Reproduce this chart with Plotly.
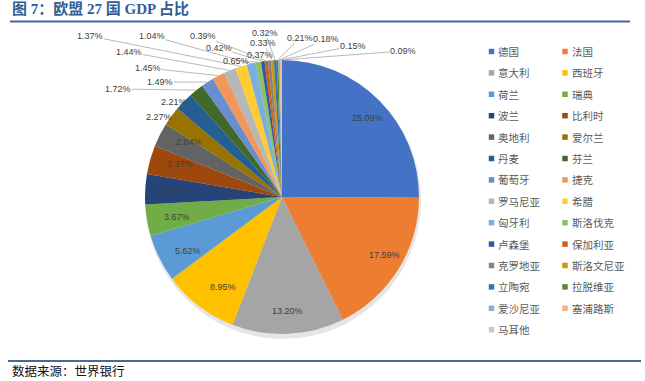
import math
import plotly.graph_objects as go

# ---------------- data ----------------
countries = ["德国", "法国", "意大利", "西班牙", "荷兰", "瑞典", "波兰", "比利时", "奥地利",
             "爱尔兰", "丹麦", "芬兰", "葡萄牙", "捷克", "罗马尼亚", "希腊", "匈牙利", "斯洛伐克",
             "卢森堡", "保加利亚", "克罗地亚", "斯洛文尼亚", "立陶宛", "拉脱维亚", "爱沙尼亚",
             "塞浦路斯", "马耳他"]
shares = [25.09, 17.59, 13.20, 8.95, 5.62, 3.67, 3.57, 3.37, 2.84,
          2.27, 2.21, 1.72, 1.49, 1.45, 1.44, 1.37, 1.04, 0.65,
          0.42, 0.39, 0.37, 0.33, 0.32, 0.21, 0.18, 0.15, 0.09]
colors = ["#4472C4", "#ED7D31", "#A5A5A5", "#FFC000", "#5B9BD5", "#70AD47", "#264478",
          "#9E480E", "#636363", "#997300", "#255E91", "#43682B", "#698ED0", "#F1975A",
          "#B7B7B7", "#FFCD33", "#7CAFDD", "#8CC168", "#335AA1", "#D26012", "#848484",
          "#CC9A00", "#3275B2", "#5A8A39", "#8FAADC", "#F4B183", "#C9C9C9"]
title_text = "图 7：欧盟 27 国 GDP 占比"
source_text = "数据来源：世界银行"

# ---------------- layout constants (pixels) ----------------
W, H = 645, 381
CX, CY, R = 282, 197, 137
INSIDE_MIN = 2.5      # labels drawn inside the slice
OUTSIDE_MIN = 2.0     # labels just outside, no leader line
INSIDE_R = 0.88
OUTSIDE_GAP = 2       # px between slice edge and right end of an outside label
# label centres (px) for the small slices with leader lines, in slice order
LEADER_POS = [(118, 89), (160, 82), (148, 68), (129, 52), (90, 36), (152, 36),
              (236, 61), (219, 48), (203, 36), (260, 54.5), (263, 43), (265, 32.5),
              (300, 38), (326, 39), (353, 46), (403, 51)]
LEG_X = [491.5, 565.0]
LEG_Y0, LEG_DY = 51.5, 21.4
LEG_SQ = 5.5
LINE_COLOR = "#44699A"
NUM_FONT = dict(family="Liberation Sans, Arial", size=9, color="#404040")
CJK = "Noto Sans CJK SC"


def px(x):
    return x / W


def py(y):
    return 1 - y / H


fig = go.Figure()
fig.add_trace(go.Pie(
    labels=countries, values=shares, sort=False, direction="clockwise", rotation=0,
    marker=dict(colors=colors, line=dict(width=0)),
    textinfo="none", hoverinfo="label+percent", showlegend=False,
    domain=dict(x=[px(CX - R), px(CX + R)], y=[py(CY + R), py(CY - R)]),
))

annotations = []
shapes = []

# soft shadow behind pie
shapes.append(dict(type="circle", xref="paper", yref="paper", layer="below",
                   x0=px(CX - R), x1=px(CX + R + 2), y0=py(CY + R + 5), y1=py(CY - R + 1),
                   fillcolor="rgba(0,0,0,0.10)", line=dict(width=0)))

# value labels
total = sum(shares)
cum = 0.0
k = 0
for v in shares:
    theta = 2 * math.pi * (cum + v / 2) / total
    cum += v
    dx, dy = math.sin(theta), -math.cos(theta)
    txt = f"{v:.2f}%"
    if v >= INSIDE_MIN:
        annotations.append(dict(x=px(CX + INSIDE_R * R * dx), y=py(CY + INSIDE_R * R * dy),
                                xref="paper", yref="paper", text=txt, showarrow=False,
                                font=NUM_FONT, borderpad=0))
    elif v >= OUTSIDE_MIN:
        # right-aligned against the slice's outer edge, at the slice's mid-angle height
        ey = CY + 1.06 * R * dy
        ex = CX - math.sqrt(max(R * R - (ey - CY) ** 2, 0)) - OUTSIDE_GAP
        annotations.append(dict(x=px(ex), y=py(ey), xref="paper", yref="paper",
                                xanchor="right", text=txt, showarrow=False,
                                font=NUM_FONT, borderpad=0))
    else:
        tx, ty = CX + R * dx, CY + R * dy
        lx, ly = LEADER_POS[k]
        k += 1
        annotations.append(dict(x=px(tx), y=py(ty), xref="paper", yref="paper",
                                ax=lx - tx, ay=ly - ty, axref="pixel", ayref="pixel",
                                text=txt, showarrow=True, arrowhead=0, arrowwidth=0.8,
                                arrowcolor="#A6A6A6", standoff=0, startstandoff=0,
                                font=NUM_FONT, borderpad=0))

# legend (two columns, like the original)
for i, (name, col) in enumerate(zip(countries, colors)):
    c, r = i % 2, i // 2
    x0 = LEG_X[c]
    y0 = LEG_Y0 + r * LEG_DY
    shapes.append(dict(type="rect", xref="paper", yref="paper",
                       x0=px(x0 - LEG_SQ / 2), x1=px(x0 + LEG_SQ / 2),
                       y0=py(y0 + LEG_SQ / 2), y1=py(y0 - LEG_SQ / 2),
                       fillcolor=col, line=dict(width=0)))
    annotations.append(dict(x=px(x0 + 4.5), y=py(y0), xref="paper", yref="paper",
                            xanchor="left", yanchor="middle", text=name, showarrow=False,
                            font=dict(family=CJK, size=10.5, color="#595959")))

# title, rules and source
annotations.append(dict(x=px(11), y=py(9), xref="paper", yref="paper", xanchor="left",
                        yanchor="middle", text=f"<b>{title_text}</b>", showarrow=False,
                        borderpad=0,
                        font=dict(family="Liberation Serif, " + CJK, size=15, color="#2F5E96")))
annotations.append(dict(x=px(11), y=py(381), xref="paper", yref="paper", xanchor="left",
                        yanchor="bottom", text=source_text, showarrow=False, borderpad=0,
                        font=dict(family=CJK, size=12.5, color="#111111")))
shapes.append(dict(type="line", xref="paper", yref="paper", x0=px(10), x1=px(630),
                   y0=py(21.5), y1=py(21.5), line=dict(color=LINE_COLOR, width=2)))
shapes.append(dict(type="line", xref="paper", yref="paper", x0=px(8), x1=px(641),
                   y0=py(361), y1=py(361), line=dict(color=LINE_COLOR, width=2)))

fig.update_layout(
    width=W, height=H, margin=dict(l=0, r=0, t=0, b=0),
    paper_bgcolor="white", plot_bgcolor="white",
    annotations=annotations, shapes=shapes, showlegend=False,
)
fig.write_html("out.html", config={"displayModeBar": False},
               post_script="document.body.style.margin='0';document.body.style.padding='0';")
